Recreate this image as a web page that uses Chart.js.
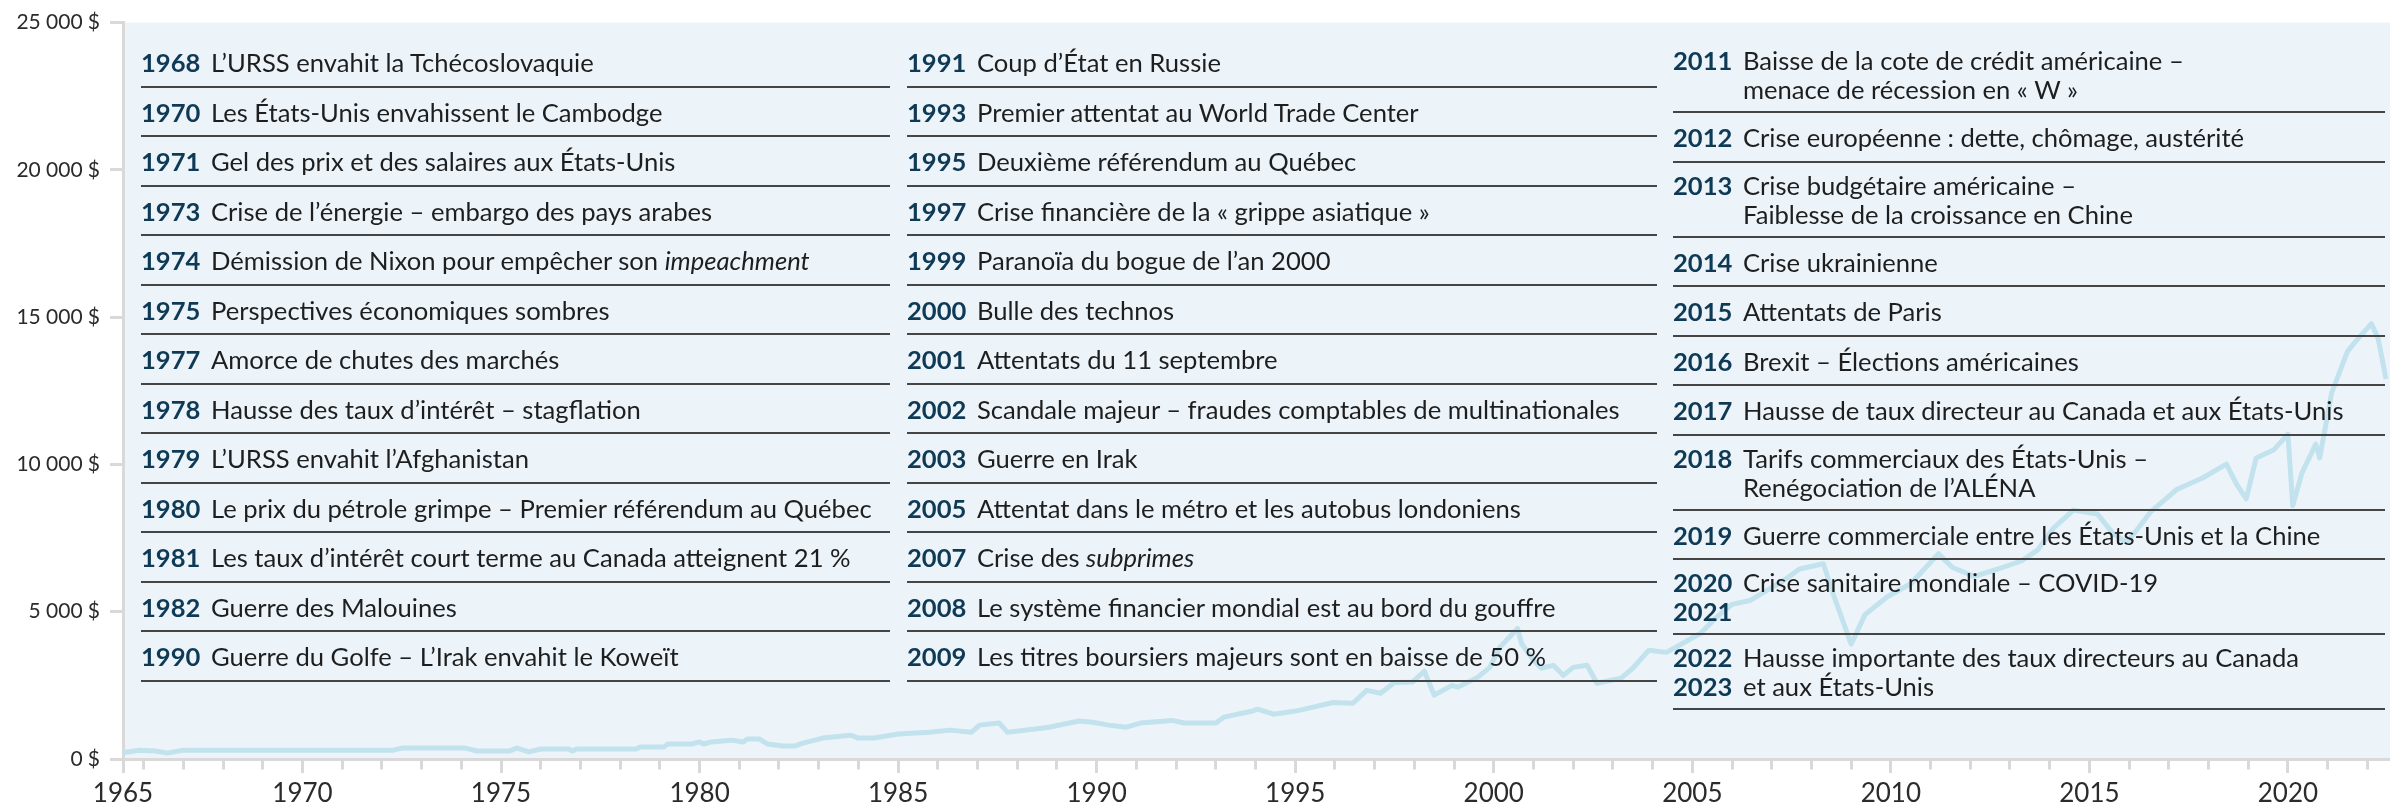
<!DOCTYPE html>
<html lang="fr">
<head>
<meta charset="UTF-8">
<title>Événements marquants et croissance</title>
<script src="https://cdn.jsdelivr.net/npm/chart.js"></script>
<style>
  body { margin: 0; background: #fff; font-family: Lato, 'Noto Sans', sans-serif; }
  .wrap { position: relative; width: 2390px; height: 806px; }
  canvas { position: absolute; left: 0; top: 0; }
  .col { position: absolute; top: 38px; }
  .row {
    display: flex;
    padding: 10px 0 8.5px;
    line-height: 29px;
    font-size: 25.6px;
    color: #1e1e1e;
    border-bottom: 2px solid #454545;
    white-space: pre;
  }
  .row.two { padding: 8px 0 7px; }
  .yr { width: 70px; flex: none; font-weight: 700; color: #0f3a55; }
</style>
</head>
<body>
<div class="wrap">
  <canvas id="chart" width="2390" height="806"></canvas>
  <div id="events"></div>
</div>
<script>
  // growth of the index (year, $)
  const dates = [
    1965.5, 1965.9, 1966.3, 1966.6, 1967.0, 1968.0, 1969.0, 1970.0, 1971.0, 1972.3,
    1972.5, 1973.5, 1974.1, 1974.4, 1975.2, 1975.4, 1975.7, 1976.0, 1976.7, 1976.8,
    1976.9, 1978.4, 1978.5, 1979.1, 1979.2, 1979.8, 1980.0, 1980.1, 1980.3, 1980.8,
    1981.1, 1981.2, 1981.5, 1981.7, 1982.1, 1982.4, 1982.6, 1983.1, 1983.8, 1984.0,
    1984.4, 1985.0, 1985.8, 1986.3, 1986.85, 1987.05, 1987.55, 1987.75, 1988.4, 1988.8,
    1989.55, 1989.9, 1990.3, 1990.75, 1991.1, 1991.9, 1992.2, 1993.0, 1993.2, 1993.9,
    1994.05, 1994.45, 1994.8, 1995.1, 1995.95, 1996.45, 1996.8, 1997.15, 1997.5, 1997.95,
    1998.25, 1998.5, 1998.95, 1999.1, 1999.6, 1999.9, 2000.15, 2000.6, 2000.7, 2001.0,
    2001.2, 2001.5, 2001.75, 2002.0, 2002.35, 2002.6, 2003.2, 2003.5, 2003.9, 2004.35,
    2005.2, 2005.6, 2006.0, 2006.45, 2006.85, 2007.3, 2007.7, 2008.3, 2008.6, 2009.0,
    2009.35, 2009.9, 2010.5, 2011.2, 2011.55, 2012.1, 2012.7, 2013.3, 2013.7, 2014.1,
    2014.6, 2015.2, 2015.6, 2015.95, 2016.55, 2017.2, 2017.85, 2018.45, 2018.7, 2018.95,
    2019.2, 2019.65, 2020.0, 2020.12, 2020.35, 2020.7, 2020.8, 2021.1, 2021.5, 2021.7,
    2022.1, 2022.27, 2022.47
  ];
  const values = [
    220, 300, 270, 200, 300, 300, 300, 300, 300, 300,
    370, 370, 370, 270, 270, 370, 240, 340, 340, 270,
    340, 340, 410, 410, 510, 510, 580, 510, 580, 640,
    580, 680, 680, 510, 440, 440, 540, 710, 810, 710,
    710, 850, 910, 980, 910, 1150, 1220, 910, 1010, 1080,
    1290, 1250, 1150, 1080, 1220, 1310, 1220, 1220, 1420, 1620,
    1690, 1520, 1590, 1650, 1920, 1890, 2330, 2230, 2600, 2610,
    2980, 2170, 2500, 2440, 2780, 3110, 3790, 4430, 3920, 3350,
    3080, 3180, 2840, 3110, 3180, 2570, 2740, 3080, 3690, 3620,
    4260, 4800, 5250, 5380, 5700, 6060, 6450, 6630, 5400, 3900,
    4900, 5500, 5950, 6970, 6500, 6200, 6450, 6730, 7100, 7850,
    8450, 8320, 7650, 7350, 8400, 9150, 9540, 10010, 9340, 8830,
    10220, 10500, 11030, 8600, 9700, 10690, 10220, 12430, 13840, 14170,
    14780, 14280, 12900
  ];

  const xStart = 1965.48;
  const xEnd = 2022.57;
  const yTicks = [0, 5000, 10000, 15000, 20000, 25000];
  const labelYears = [1965, 1970, 1975, 1980, 1985, 1990, 1995, 2000, 2005, 2010, 2015, 2020];
  const minorYears = [];
  for (let y = 1966; y <= 2022; y++) minorYears.push(y);

  // events, three columns
  const col1Years = ['1968','1970','1971','1973','1974','1975','1977','1978','1979','1980','1981','1982','1990'];
  const col1Texts = [
    'L’URSS envahit la Tchécoslovaquie',
    'Les États-Unis envahissent le Cambodge',
    'Gel des prix et des salaires aux États-Unis',
    'Crise de l’énergie – embargo des pays arabes',
    'Démission de Nixon pour empêcher son *impeachment*',
    'Perspectives économiques sombres',
    'Amorce de chutes des marchés',
    'Hausse des taux d’intérêt – stagflation',
    'L’URSS envahit l’Afghanistan',
    'Le prix du pétrole grimpe – Premier référendum au Québec',
    'Les taux d’intérêt court terme au Canada atteignent 21\u202f%',
    'Guerre des Malouines',
    'Guerre du Golfe – L’Irak envahit le Koweït'
  ];
  const col2Years = ['1991','1993','1995','1997','1999','2000','2001','2002','2003','2005','2007','2008','2009'];
  const col2Texts = [
    'Coup d’État en Russie',
    'Premier attentat au World Trade Center',
    'Deuxième référendum au Québec',
    'Crise financière de la «\u202fgrippe asiatique\u202f»',
    'Paranoïa du bogue de l’an 2000',
    'Bulle des technos',
    'Attentats du 11 septembre',
    'Scandale majeur – fraudes comptables de multinationales',
    'Guerre en Irak',
    'Attentat dans le métro et les autobus londoniens',
    'Crise des *subprimes*',
    'Le système financier mondial est au bord du gouffre',
    'Les titres boursiers majeurs sont en baisse de 50\u202f%'
  ];
  const col3Years = ['2011','2012','2013','2014','2015','2016','2017','2018','2019','2020\n2021','2022\n2023'];
  const col3Texts = [
    'Baisse de la cote de crédit américaine –\nmenace de récession en «\u202fW\u202f»',
    'Crise européenne\u202f: dette, chômage, austérité',
    'Crise budgétaire américaine –\nFaiblesse de la croissance en Chine',
    'Crise ukrainienne',
    'Attentats de Paris',
    'Brexit – Élections américaines',
    'Hausse de taux directeur au Canada et aux États-Unis',
    'Tarifs commerciaux des États-Unis –\nRenégociation de l’ALÉNA',
    'Guerre commerciale entre les États-Unis et la Chine',
    'Crise sanitaire mondiale – COVID-19',
    'Hausse importante des taux directeurs au Canada\net aux États-Unis'
  ];

  function addColumn(years, texts, left, width) {
    const col = document.createElement('div');
    col.className = 'col';
    col.style.left = left + 'px';
    col.style.width = width + 'px';
    years.forEach((yr, i) => {
      const row = document.createElement('div');
      const two = yr.includes('\n') || texts[i].includes('\n');
      row.className = two ? 'row two' : 'row';
      const y = document.createElement('span');
      y.className = 'yr';
      y.textContent = yr;
      const t = document.createElement('span');
      t.innerHTML = texts[i].replace(/\*(.+?)\*/g, '<i>$1</i>');
      row.appendChild(y);
      row.appendChild(t);
      col.appendChild(row);
    });
    document.getElementById('events').appendChild(col);
  }
  addColumn(col1Years, col1Texts, 141, 749);
  addColumn(col2Years, col2Texts, 907, 750);
  addColumn(col3Years, col3Texts, 1673, 712);

  const plotBg = {
    id: 'plotBg',
    beforeDraw(chart) {
      const { ctx, chartArea: a } = chart;
      ctx.save();
      ctx.fillStyle = '#ecf4fa';
      ctx.fillRect(a.left, a.top, a.right - a.left, a.bottom - a.top);
      ctx.restore();
    }
  };

  const fmt = v => String(v).replace(/\B(?=(\d{3})+(?!\d))/g, '\u202f') + '\u202f$';

  new Chart(document.getElementById('chart'), {
    type: 'line',
    data: {
      datasets: [{
        data: dates.map((d, i) => ({ x: d, y: values[i] })),
        borderColor: '#c2e2ee',
        borderWidth: 5,
        pointRadius: 0,
        tension: 0,
        borderJoinStyle: 'round'
      }]
    },
    options: {
      responsive: false,
      animation: false,
      devicePixelRatio: 1,
      layout: { padding: { top: 18, right: 0, bottom: 0, left: 0 } },
      plugins: { legend: { display: false }, tooltip: { enabled: false } },
      scales: {
        x: {
          type: 'linear',
          min: xStart,
          max: xEnd,
          afterFit: s => { s.height = 47; },
          afterBuildTicks: s => { s.ticks = [xStart].concat(minorYears).map(v => ({ value: v })); },
          border: { color: '#d9d9d9', width: 3 },
          grid: {
            drawOnChartArea: false,
            tickLength: 14,
            tickWidth: 3,
            tickColor: '#d9d9d9',
            tickBorderDash: ctx => {
              const v = ctx.tick ? ctx.tick.value : 0;
              return (v === xStart || labelYears.includes(v)) ? [] : [8.5, 60];
            }
          },
          ticks: {
            autoSkip: false,
            maxRotation: 0,
            padding: 5,
            color: '#2b2b2b',
            font: { family: "'Liberation Sans Narrow', Lato, sans-serif", size: 26 },
            callback: v => v === xStart ? '1965' : (labelYears.includes(v) ? String(v) : '')
          }
        },
        y: {
          min: 0,
          max: 25000,
          afterFit: s => { s.width = 123; },
          afterBuildTicks: s => { s.ticks = yTicks.map(v => ({ value: v })); },
          border: { color: '#d9d9d9', width: 3 },
          grid: {
            drawOnChartArea: false,
            tickLength: 13,
            tickWidth: 3,
            tickColor: '#d9d9d9'
          },
          ticks: {
            padding: 10,
            color: '#2b2b2b',
            font: { family: 'Lato, sans-serif', size: 21 },
            callback: v => fmt(v)
          }
        }
      }
    },
    plugins: [plotBg]
  });
</script>
</body>
</html>
